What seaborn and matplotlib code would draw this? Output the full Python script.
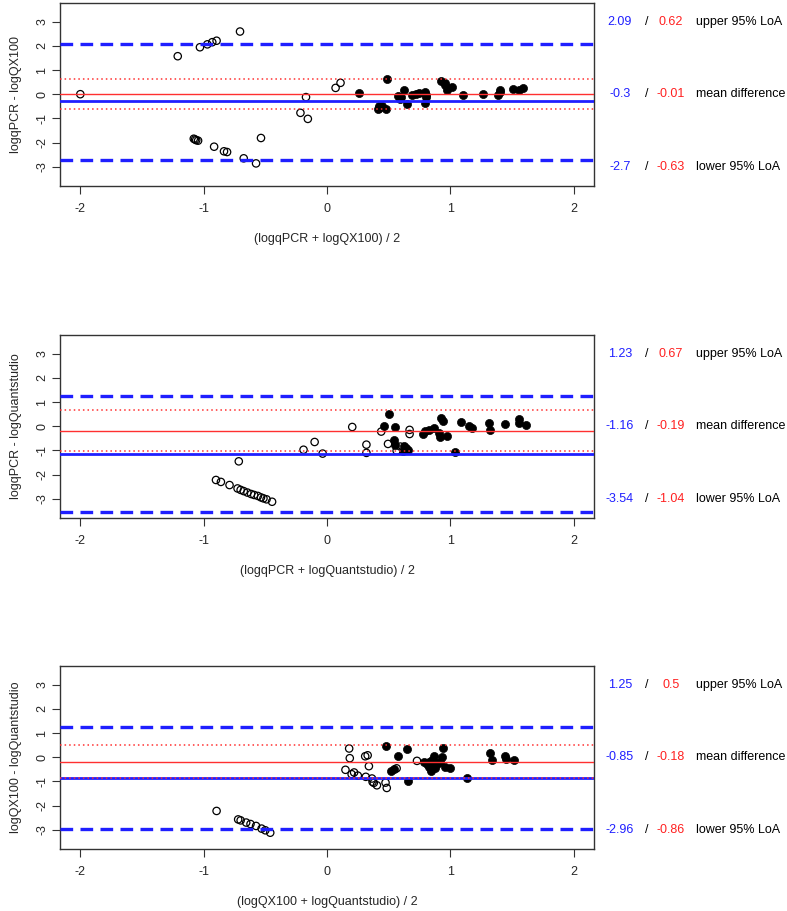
import matplotlib
matplotlib.use("Agg")
import pandas as pd
from matplotlib import pyplot as plt
import seaborn as sns

# panel 1: qPCR vs QX100
p1_open_x = [-2.0, -1.21, -1.03, -0.97, -0.93, -0.895, -0.705, -1.08, -1.07, -1.06, -1.045,
             -0.915, -0.835, -0.81, -0.535, -0.675, -0.575, -0.215, -0.17, -0.155, 0.07, 0.11]
p1_open_y = [0.0, 1.57, 1.94, 2.06, 2.15, 2.21, 2.59, -1.84, -1.87, -1.9, -1.92,
             -2.17, -2.36, -2.39, -1.81, -2.65, -2.86, -0.77, -0.12, -1.02, 0.26, 0.47]
p1_fill_x = [0.26, 0.49, 0.41, 0.425, 0.45, 0.475, 0.575, 0.59, 0.625, 0.65, 0.69, 0.72, 0.75,
             0.795, 0.8, 0.795, 0.925, 0.96, 0.975, 1.01, 1.105, 1.265, 1.39, 1.4, 1.51, 1.555,
             1.59, 0.6, 0.42, 0.955, 1.4, 0.8]
p1_fill_y = [0.03, 0.63, -0.63, -0.5, -0.47, -0.61, -0.08, -0.19, 0.17, -0.4, -0.04, 0.0, 0.06,
             0.08, -0.12, -0.36, 0.54, 0.36, 0.17, 0.3, -0.04, -0.01, -0.04, 0.19, 0.22, 0.19,
             0.25, -0.12, -0.55, 0.45, 0.1, -0.05]

# panel 2: qPCR vs Quantstudio
p2_open_x = [-0.9, -0.86, -0.79, -0.715, -0.725, -0.7, -0.675, -0.645, -0.615, -0.59, -0.56,
             -0.535, -0.515, -0.49, -0.445, -0.19, -0.1, -0.035, 0.205, 0.32, 0.32, 0.44, 0.495,
             0.565, 0.595, 0.67, 0.67]
p2_open_y = [-2.22, -2.3, -2.43, -1.45, -2.57, -2.63, -2.68, -2.74, -2.8, -2.84, -2.88,
             -2.94, -2.98, -3.02, -3.12, -0.97, -0.65, -1.13, -0.03, -0.76, -1.1, -0.22, -0.73,
             -1.01, -0.84, -0.15, -0.32]
p2_fill_x = [0.46, 0.5, 0.555, 0.54, 0.555, 0.625, 0.64, 0.655, 0.62, 0.775, 0.795, 0.83, 0.87,
             0.91, 0.92, 0.925, 0.94, 0.975, 1.035, 1.085, 1.155, 1.175, 1.31, 1.325, 1.445,
             1.56, 1.555, 1.615]
p2_fill_y = [-0.01, 0.51, -0.03, -0.55, -0.77, -0.83, -0.9, -0.98, -1.01, -0.32, -0.18, -0.15,
             -0.07, -0.29, -0.46, 0.33, 0.23, -0.39, -1.05, 0.18, 0.03, -0.08, 0.15, -0.15, 0.1,
             0.29, 0.12, 0.07]

# panel 3: QX100 vs Quantstudio
p3_open_x = [-0.895, -0.72, -0.7, -0.655, -0.62, -0.575, -0.53, -0.5, -0.46, 0.15, 0.18, 0.185,
             0.2, 0.22, 0.25, 0.31, 0.33, 0.315, 0.34, 0.365, 0.37, 0.38, 0.405, 0.475, 0.485,
             0.565, 0.73]
p3_open_y = [-2.22, -2.57, -2.61, -2.7, -2.76, -2.84, -2.95, -3.02, -3.12, -0.52, 0.36, -0.04,
             -0.7, -0.63, -0.76, 0.04, 0.08, -0.81, -0.37, -0.88, -1.02, -1.06, -1.16, -1.05,
             -1.27, -0.46, -0.15]
p3_fill_x = [0.48, 0.52, 0.54, 0.58, 0.645, 0.66, 0.79, 0.81, 0.83, 0.845, 0.855, 0.87, 0.88,
             0.885, 0.83, 0.895, 0.915, 0.935, 0.94, 0.96, 0.995, 1.135, 1.32, 1.34, 1.445, 1.45,
             1.515]
p3_fill_y = [0.48, -0.57, -0.5, 0.03, 0.36, -0.99, -0.18, -0.26, -0.19, -0.58, -0.12, 0.06,
             -0.43, -0.22, -0.4, -0.29, -0.19, 0.01, 0.37, -0.4, -0.43, -0.87, 0.17, -0.12, 0.07,
             -0.07, -0.1]

# limits of agreement: blue = all points, red = filled points
blue_upper = [2.09, 1.23, 1.25]
blue_mean = [-0.3, -1.16, -0.85]
blue_lower = [-2.7, -3.54, -2.96]
red_upper = [0.62, 0.67, 0.5]
red_mean = [-0.01, -0.19, -0.18]
red_lower = [-0.63, -1.04, -0.86]

y_labels = ["logqPCR - logQX100", "logqPCR - logQuantstudio", "logQX100 - logQuantstudio"]
x_labels = ["(logqPCR + logQX100) / 2", "(logqPCR + logQuantstudio) / 2",
            "(logQX100 + logQuantstudio) / 2"]
row_names = ["upper 95% LoA", "mean difference", "lower 95% LoA"]

sns.set_style("ticks")
plt.rcParams['font.family'] = ['Liberation Sans', 'DejaVu Sans']
plt.rcParams['axes.unicode_minus'] = False

panels = [
    (p1_open_x, p1_open_y, p1_fill_x, p1_fill_y),
    (p2_open_x, p2_open_y, p2_fill_x, p2_fill_y),
    (p3_open_x, p3_open_y, p3_fill_x, p3_fill_y),
]
bottoms = [0.7962, 0.4317, 0.0684]
fs = 9

fig = plt.figure(figsize=(7.87, 9.11), dpi=100)
for i, (ox, oy, fx, fy) in enumerate(panels):
    ax = fig.add_axes([0.0762, bottoms[i], 0.6785, 0.2008])
    open_df = pd.DataFrame({'x': ox, 'y': oy})
    fill_df = pd.DataFrame({'x': fx, 'y': fy})

    sns.scatterplot(data=open_df, x='x', y='y', ax=ax, marker='o', s=28,
                    facecolor='none', edgecolor='black', linewidth=0.9, zorder=3)
    sns.scatterplot(data=fill_df, x='x', y='y', ax=ax, marker='o', s=34,
                    color='black', edgecolor='black', linewidth=0.5, zorder=3)

    # lines
    for v in (blue_upper[i], blue_lower[i]):
        ax.axhline(v, color='#1f1fff', lw=2.4, dashes=(3.8, 2.2), zorder=4)
    ax.axhline(blue_mean[i], color='#1f1fff', lw=2.0, zorder=4)
    ax.axhline(red_mean[i], color='#ff3030', lw=1.0, zorder=4)
    for v in (red_upper[i], red_lower[i]):
        ax.axhline(v, color='#ff3030', lw=1.1, dashes=(1, 2.0), zorder=4)

    ax.set_xlim(-2.165, 2.165)
    ax.set_ylim(-3.78, 3.78)
    ax.set_xticks([-2, -1, 0, 1, 2])
    ax.set_yticks([-3, -2, -1, 0, 1, 2, 3])
    ax.tick_params(axis='both', labelsize=fs, length=5.5, width=0.8, color='#333333')
    ax.tick_params(axis='x', pad=7)
    ax.tick_params(axis='y', pad=3)
    for lab in ax.get_yticklabels():
        lab.set_rotation(90)
        lab.set_va('center')
    for sp in ax.spines.values():
        sp.set_visible(True)
        sp.set_color('#333333')
        sp.set_linewidth(1.0)
    ax.set_xlabel(x_labels[i], fontsize=fs, labelpad=13)
    ax.set_ylabel(y_labels[i], fontsize=fs, labelpad=10)

    # right-hand annotations
    trans = ax.get_yaxis_transform()
    blues = [blue_upper[i], blue_mean[i], blue_lower[i]]
    reds = [red_upper[i], red_mean[i], red_lower[i]]
    for ypos, b, r, name in zip([3, 0, -3], blues, reds, row_names):
        ax.text(1.0487, ypos, str(b), transform=trans, color='#1f1fff', fontsize=fs,
                ha='center', va='center', clip_on=False)
        ax.text(1.0993, ypos, "/", transform=trans, color='black', fontsize=fs,
                ha='center', va='center', clip_on=False)
        ax.text(1.1442, ypos, str(r), transform=trans, color='#ff2020', fontsize=fs,
                ha='center', va='center', clip_on=False)
        ax.text(1.191, ypos, name, transform=trans, color='black', fontsize=fs,
                ha='left', va='center', clip_on=False)

fig.savefig("out.png", dpi=100)
